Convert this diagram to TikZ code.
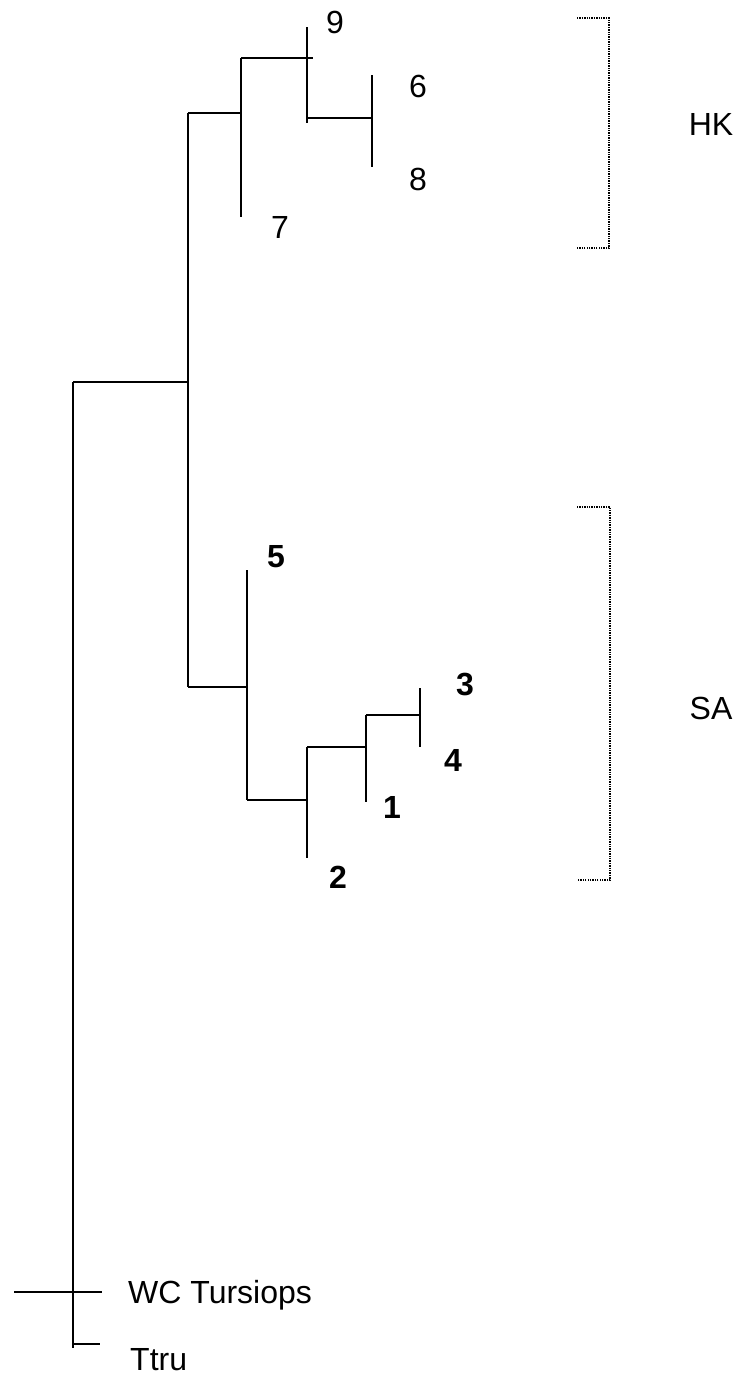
\documentclass[tikz,border=0pt]{standalone}
\usepackage{fontspec}
\setmainfont{Liberation Sans}
\begin{document}
\begin{tikzpicture}[x=1pt,y=-1pt,
  br/.style={line width=1.4pt},
  brk/.style={line width=1.2pt, dash pattern=on 1.3pt off 1.1pt},
  lab/.style={font=\fontsize{32}{36}\selectfont, inner sep=0pt},
  blab/.style={font=\fontsize{32}{36}\selectfont\bfseries, inner sep=0pt}]
\useasboundingbox (0,0) rectangle (743,1376);
% root and outgroup
\coordinate (rt) at (73,382);
\coordinate (rb) at (73,1348);
\coordinate (wcL) at (14,1292);
\coordinate (wcR) at (102,1292);
\coordinate (ttL) at (73,1344);
\coordinate (ttR) at (100,1344);
% ingroup node
\coordinate (n0) at (188,382);
\coordinate (n0t) at (188,113);
\coordinate (n0b) at (188,687);
% HK clade
\coordinate (h1) at (241,113);
\coordinate (h1t) at (241,58);
\coordinate (h1b) at (241,217);
\coordinate (h2) at (313,58);
\coordinate (h2t) at (307,27);
\coordinate (h2b) at (307,123);
\coordinate (h2m) at (307,118);
\coordinate (h3) at (372,118);
\coordinate (h3t) at (372,75);
\coordinate (h3b) at (372,167);
% SA clade
\coordinate (s1) at (247,687);
\coordinate (s1t) at (247,570);
\coordinate (s1b) at (247,800);
\coordinate (s2) at (307,800);
\coordinate (s2t) at (307,747);
\coordinate (s2b) at (307,858);
\coordinate (s3) at (366,747);
\coordinate (s3t) at (366,715);
\coordinate (s3b) at (366,802);
\coordinate (s4) at (420,715);
\coordinate (s4t) at (420,688);
\coordinate (s4b) at (420,747);

\draw[br] (rt) -- (rb);
\draw[br] (rt) -- (n0);
\draw[br] (wcL) -- (wcR);
\draw[br] (ttL) -- (ttR);
\draw[br] (n0t) -- (n0b);
\draw[br] (n0t) -- (h1);
\draw[br] (h1t) -- (h1b);
\draw[br] (h1t) -- (h2);
\draw[br] (h2t) -- (h2b);
\draw[br] (h2m) -- (h3);
\draw[br] (h3t) -- (h3b);
\draw[br] (n0b) -- (s1);
\draw[br] (s1t) -- (s1b);
\draw[br] (s1b) -- (s2);
\draw[br] (s2t) -- (s2b);
\draw[br] (s2t) -- (s3);
\draw[br] (s3t) -- (s3b);
\draw[br] (s3t) -- (s4);
\draw[br] (s4t) -- (s4b);

% labels
\node[lab, anchor=base] (l9) at (335,33) {9};
\node[lab, anchor=base] (l6) at (418,97) {6};
\node[lab, anchor=base] (l8) at (418,190) {8};
\node[lab, anchor=base] (l7) at (280,238) {7};
\node[blab, anchor=base] (l5) at (276,567) {5};
\node[blab, anchor=base] (l3) at (465,695) {3};
\node[blab, anchor=base] (l4) at (453,771) {4};
\node[blab, anchor=base] (l1) at (392,818) {1};
\node[blab, anchor=base] (l2) at (338,888) {2};
\node[lab, anchor=base west] (lwc) at (128,1303) {WC Tursiops};
\node[lab, anchor=base west] (ltt) at (130,1370) {Ttru};
\node[lab, anchor=base] (lhk) at (711,135) {HK};
\node[lab, anchor=base] (lsa) at (711,719) {SA};

% brackets
\coordinate (hkA) at (577,18);
\coordinate (hkB) at (609,18);
\coordinate (hkC) at (609,248);
\coordinate (hkD) at (577,248);
\draw[brk] (hkA) -- (hkB) -- (hkC) -- (hkD);
\coordinate (saA) at (577,507);
\coordinate (saB) at (610,507);
\coordinate (saC) at (610,880);
\coordinate (saD) at (577,880);
\draw[brk] (saA) -- (saB) -- (saC) -- (saD);
\end{tikzpicture}
\end{document}
